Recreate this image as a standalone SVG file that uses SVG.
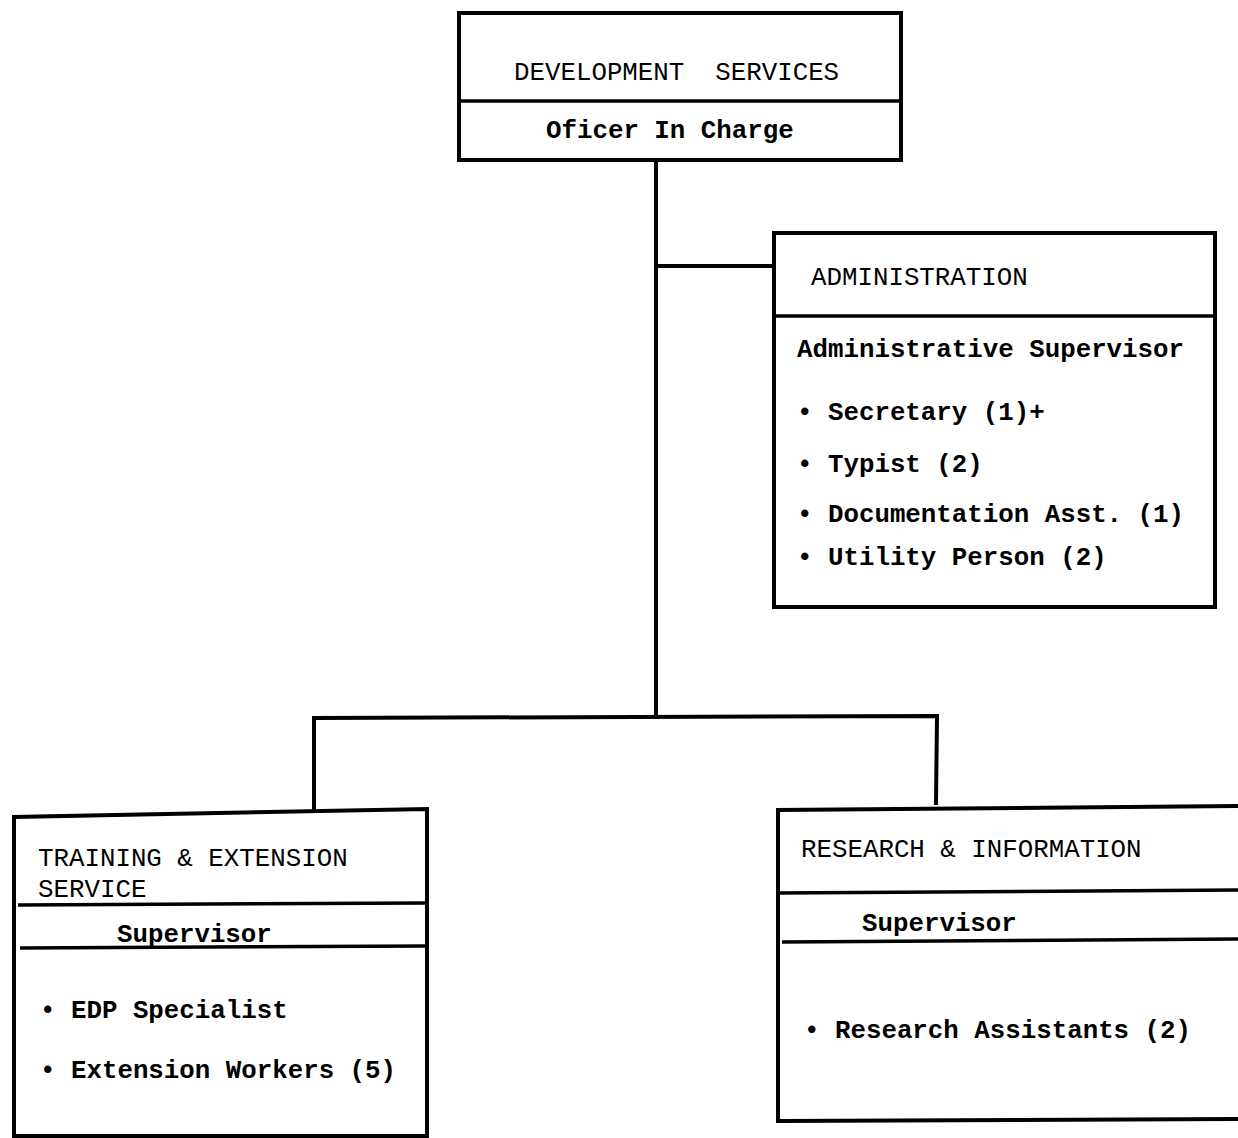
<svg xmlns="http://www.w3.org/2000/svg" width="1238" height="1138" viewBox="0 0 1238 1138">
  <style>
    .box { fill: none; stroke: #000; stroke-width: 4; stroke-linecap: square; }
    .div { stroke: #000; stroke-width: 3.5; }
    .link { fill: none; stroke: #000; stroke-width: 4; stroke-linecap: square; }
    text { font-family: "Liberation Mono", "DejaVu Sans Mono", monospace; font-size: 25.8px; fill: #000; white-space: pre; }
    .head { font-weight: normal; }
    .role { font-weight: bold; }
  </style>
  <rect width="1238" height="1138" fill="#fff"/>

  <!-- connectors -->
  <g id="connectors">
    <line class="link" x1="656" y1="160" x2="656" y2="717"/>
    <line class="link" x1="656" y1="266" x2="774" y2="266"/>
    <polyline class="link" points="314,808 314,718 937,716 936,803"/>
  </g>

  <!-- top node -->
  <g id="development-services">
    <rect class="box" x="459" y="13" width="442" height="147"/>
    <line class="div" x1="459" y1="101" x2="901" y2="101"/>
    <text class="head" x="514" y="80" xml:space="preserve">DEVELOPMENT  SERVICES</text>
    <text class="role" x="546" y="138">Oficer In Charge</text>
  </g>

  <!-- administration -->
  <g id="administration">
    <rect class="box" x="774" y="233" width="441" height="374"/>
    <line class="div" x1="774" y1="316" x2="1215" y2="316"/>
    <text class="head" x="811" y="285">ADMINISTRATION</text>
    <text class="role" x="797" y="357">Administrative Supervisor</text>
    <text class="role" x="797" y="420">• Secretary (1)+</text>
    <text class="role" x="797" y="472">• Typist (2)</text>
    <text class="role" x="797" y="522">• Documentation Asst. (1)</text>
    <text class="role" x="797" y="565">• Utility Person (2)</text>
  </g>

  <!-- training & extension -->
  <g id="training-extension">
    <path class="box" d="M14,1136 L14,817 L427,809 L427,1136 Z"/>
    <line class="div" x1="18" y1="905" x2="427" y2="903"/>
    <line class="div" x1="20" y1="948" x2="427" y2="946"/>
    <text class="head" x="38" y="866">TRAINING &amp; EXTENSION</text>
    <text class="head" x="38" y="897">SERVICE</text>
    <text class="role" x="117" y="942">Supervisor</text>
    <text class="role" x="40" y="1018">• EDP Specialist</text>
    <text class="role" x="40" y="1078">• Extension Workers (5)</text>
  </g>

  <!-- research & information -->
  <g id="research-information">
    <polyline class="box" points="1240,806 778,810 778,1121 1240,1119"/>
    <line class="div" x1="778" y1="893" x2="1238" y2="890"/>
    <line class="div" x1="782" y1="942" x2="1238" y2="939"/>
    <text class="head" x="801" y="857">RESEARCH &amp; INFORMATION</text>
    <text class="role" x="862" y="931">Supervisor</text>
    <text class="role" x="804" y="1038">• Research Assistants (2)</text>
  </g>
</svg>
